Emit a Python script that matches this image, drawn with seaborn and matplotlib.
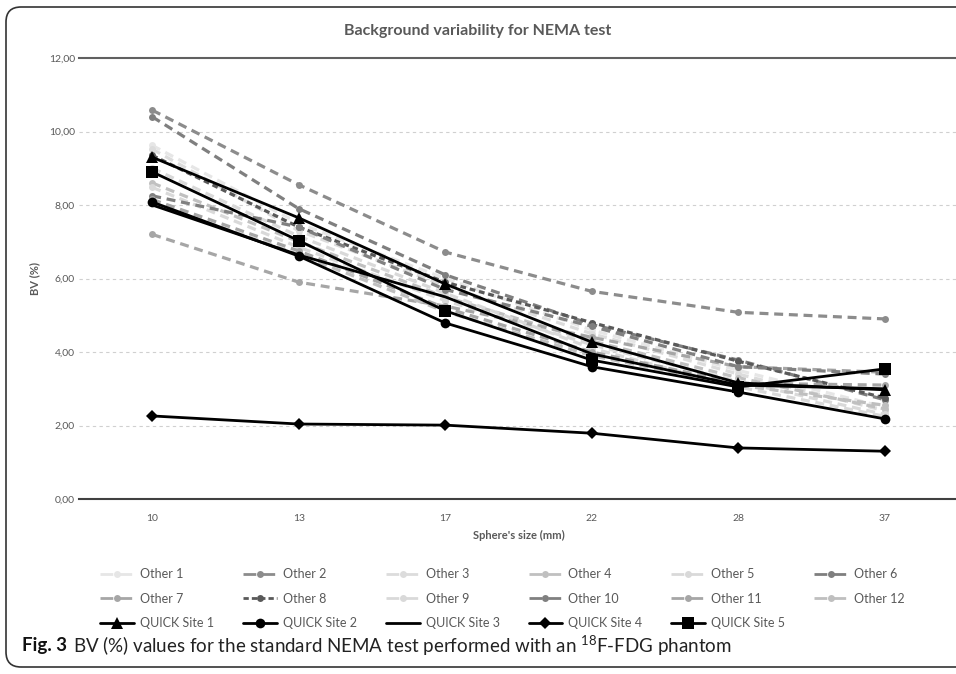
import matplotlib
matplotlib.use("Agg")
import matplotlib.pyplot as plt
import seaborn as sns
import numpy as np
from matplotlib.lines import Line2D
from matplotlib.patches import FancyBboxPatch
from matplotlib.ticker import FuncFormatter

# data
sphere_sizes = ["10", "13", "17", "22", "28", "37"]

other_names = ["Other %d" % i for i in range(1, 13)]
other_values = [
    [9.62, 7.50, 6.00, 4.60, 3.50, 2.50],
    [10.58, 8.55, 6.72, 5.65, 5.08, 4.90],
    [9.52, 7.30, 5.80, 4.50, 3.40, 2.40],
    [8.60, 7.00, 5.50, 4.30, 3.30, 2.45],
    [8.48, 6.85, 5.40, 4.20, 3.20, 2.30],
    [10.40, 7.90, 6.10, 4.75, 3.78, 2.70],
    [7.20, 5.90, 5.25, 4.40, 3.60, 3.45],
    [9.35, 7.40, 5.90, 4.80, 3.75, 2.75],
    [9.00, 7.15, 5.60, 4.10, 3.05, 2.25],
    [8.25, 7.40, 5.70, 4.70, 3.60, 3.40],
    [8.15, 6.75, 5.20, 4.00, 3.15, 3.10],
    [8.05, 6.65, 5.10, 3.90, 3.10, 2.55],
]
other_colors = ["#e6e6e6", "#8c8c8c", "#dcdcdc", "#c0c0c0", "#d9d9d9", "#7f7f7f",
                "#a6a6a6", "#595959", "#d9d9d9", "#808080", "#a6a6a6", "#bfbfbf"]

quick_names = ["QUICK Site %d" % i for i in range(1, 6)]
quick_values = [
    [9.30, 7.65, 5.85, 4.27, 3.16, 2.97],
    [8.08, 6.61, 4.79, 3.60, 2.91, 2.18],
    [8.00, 6.64, 5.50, 3.95, 3.10, 3.00],
    [2.26, 2.04, 2.01, 1.79, 1.39, 1.30],
    [8.90, 7.03, 5.12, 3.78, 3.05, 3.54],
]
quick_markers = ["^", "o", None, "D", "s"]
quick_msize = [8, 7, 0, 6, 8.5]

sns.set_style("white")
plt.rcParams['font.family'] = ['Lato', 'DejaVu Sans']
plt.rcParams['mathtext.fontset'] = 'custom'
plt.rcParams['mathtext.rm'] = 'Lato'

fig = plt.figure(figsize=(9.56, 6.74), dpi=100)
ax = fig.add_axes([79 / 956, 1 - 499 / 674, 879 / 956, 441 / 674])

pos = np.arange(len(sphere_sizes))
handles = {}

for name, vals, col in zip(other_names, other_values, other_colors):
    dash = (0, (1.8, 1.2)) if name == "Other 8" else (0, (2.8, 1.8))
    sns.lineplot(x=pos, y=vals, ax=ax, color=col, linewidth=2.3, linestyle=dash,
                 marker="o", markersize=5, markeredgewidth=0)
    leg_dash = (0, (1.9, 1.1)) if name == "Other 8" else (0, (4.6, 2.2))
    handles[name] = Line2D([], [], color=col, linewidth=2.0, linestyle=leg_dash,
                           marker="o", markersize=5, markeredgewidth=0)

for name, vals, mk, ms in zip(quick_names, quick_values, quick_markers, quick_msize):
    sns.lineplot(x=pos, y=vals, ax=ax, color="black", linewidth=2.0,
                 marker=mk, markersize=ms, markeredgewidth=0)
    handles[name] = Line2D([], [], color="black", linewidth=2.0, marker=mk,
                           markersize=ms, markeredgewidth=0)

ax.set_xlim(-0.5, 5.5)
ax.set_ylim(0, 12)
ax.set_xticks(pos)
ax.set_xticklabels(sphere_sizes)
ax.set_yticks(np.arange(0, 13, 2))
ax.yaxis.set_major_formatter(FuncFormatter(lambda v, p: ("%.2f" % v).replace(".", ",")))
ax.tick_params(axis="both", length=0, labelsize=7.5, labelcolor="#595959")
ax.tick_params(axis="x", pad=11)
ax.tick_params(axis="y", pad=3)

for y in range(2, 12, 2):
    ax.axhline(y, color="#d0d0d0", linewidth=0.8, linestyle=(0, (3, 3)), zorder=0)

for s in ["left", "right"]:
    ax.spines[s].set_visible(False)
ax.spines["bottom"].set_color("#404040")
ax.spines["bottom"].set_linewidth(1.5)
ax.spines["top"].set_color("#606060")
ax.spines["top"].set_linewidth(1.5)

ax.set_xlabel("Sphere's size (mm)", fontsize=8, fontweight="bold", color="#595959", labelpad=5)
ax.set_ylabel("BV (%)", fontsize=8, fontweight="bold", color="#595959", labelpad=6)

fig.text(0.5, 1 - 31 / 674, "Background variability for NEMA test", ha="center", va="center",
         fontsize=11.5, fontweight="bold", color="#595959")

# legend is filled by column, so reorder to read row-wise
order = []
for c in range(6):
    order.append("Other %d" % (c + 1))
    order.append("Other %d" % (c + 7))
    if c < 5:
        order.append("QUICK Site %d" % (c + 1))
fig.legend([handles[k] for k in order], order, ncol=6, loc="upper left",
           bbox_to_anchor=(94 / 956, 1 - 562 / 674), frameon=False, borderpad=0,
           fontsize=9, handlelength=2.7, handletextpad=0.5, columnspacing=2.3,
           labelspacing=1.0, labelcolor="#595959")

t1 = fig.text(22 / 956, 1 - 646 / 674, "Fig. 3", fontsize=13.5, fontweight="bold",
              va="center", color="#111111")
plt.annotate(r"BV (%) values for the standard NEMA test performed with an $^{18}$F-FDG phantom",
             xy=(1, 0.5), xycoords=t1, xytext=(4, 0), textcoords="offset points",
             va="center", fontsize=13.5, color="#222222", annotation_clip=False)

frame = FancyBboxPatch((0.06, 0.07), 10.0, 6.6, boxstyle="round,pad=0,rounding_size=0.15",
                       transform=fig.dpi_scale_trans, fill=False, edgecolor="#333333",
                       linewidth=1.2, clip_on=False)
fig.patches.append(frame)

fig.savefig("out.png", dpi=100)
